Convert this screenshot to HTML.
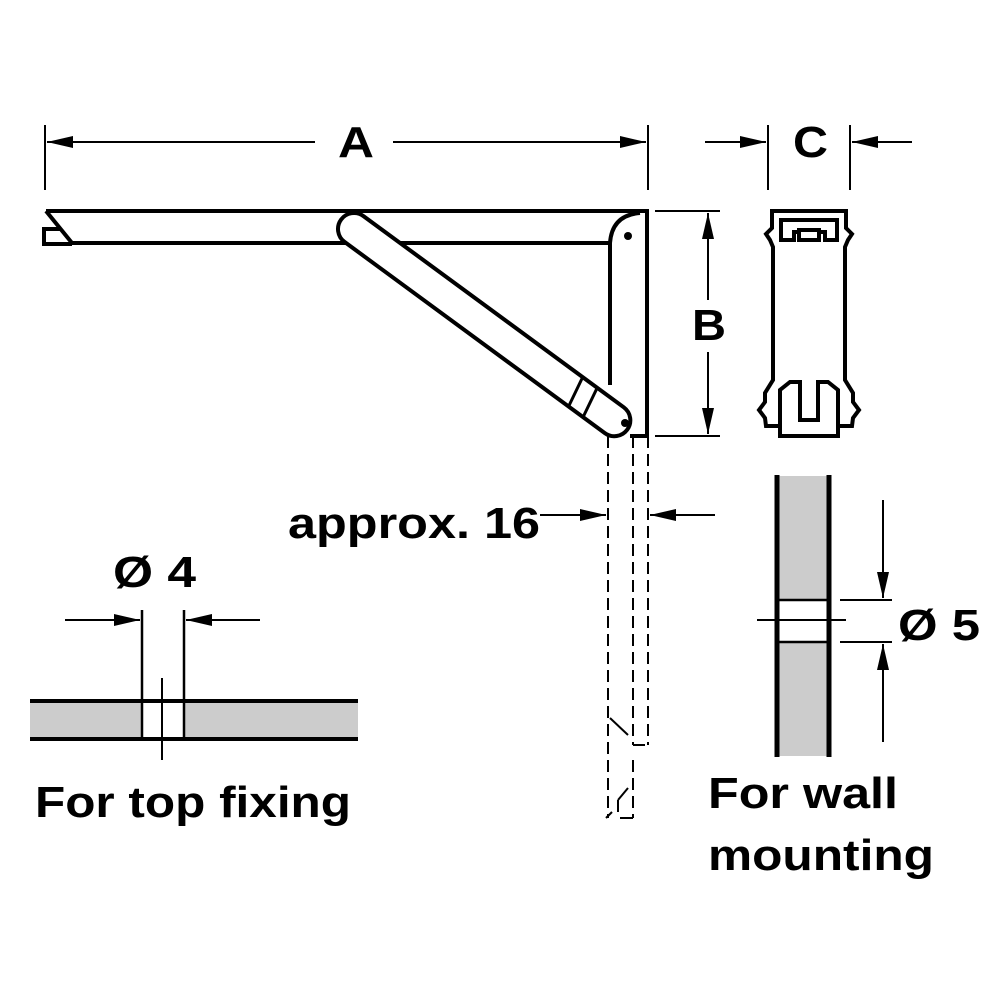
<!DOCTYPE html>
<html><head><style>body{margin:0;background:#fff}svg{display:block}</style></head><body>
<svg width="1000" height="1000" viewBox="0 0 1000 1000" xmlns="http://www.w3.org/2000/svg">
<defs>
<marker id="al" viewBox="0 0 26 12" refX="26" refY="6" markerWidth="26" markerHeight="12" markerUnits="userSpaceOnUse" orient="auto"><path d="M0,0 L26,6 L0,12 z" fill="#000"/></marker>
</defs>
<g font-family="Liberation Sans, sans-serif" font-weight="bold" fill="#000" font-size="44">
<text x="338" y="157" textLength="36" lengthAdjust="spacingAndGlyphs">A</text>
<text x="793" y="157" textLength="35" lengthAdjust="spacingAndGlyphs">C</text>
<text x="692" y="340" textLength="34" lengthAdjust="spacingAndGlyphs">B</text>
<text x="288" y="538" textLength="252" lengthAdjust="spacingAndGlyphs">approx. 16</text>
<text x="113" y="587" textLength="83" lengthAdjust="spacingAndGlyphs">Ø 4</text>
<text x="898" y="640" textLength="82" lengthAdjust="spacingAndGlyphs">Ø 5</text>
<text x="35" y="817" textLength="316" lengthAdjust="spacingAndGlyphs">For top fixing</text>
<text x="708" y="808" textLength="190" lengthAdjust="spacingAndGlyphs">For wall</text>
<text x="708" y="870" textLength="226" lengthAdjust="spacingAndGlyphs">mounting</text>
</g>
<g stroke="#000" stroke-width="2" fill="none">
<line x1="45" y1="125" x2="45" y2="190"/><line x1="648" y1="125" x2="648" y2="190"/>
<line x1="315" y1="142" x2="47" y2="142" marker-end="url(#al)"/>
<line x1="393" y1="142" x2="646" y2="142" marker-end="url(#al)"/>
<line x1="768" y1="125" x2="768" y2="190"/><line x1="850" y1="125" x2="850" y2="190"/>
<line x1="705" y1="142" x2="766" y2="142" marker-end="url(#al)"/>
<line x1="912" y1="142" x2="852" y2="142" marker-end="url(#al)"/>
<line x1="655" y1="211" x2="720" y2="211"/><line x1="655" y1="436" x2="720" y2="436"/>
<line x1="708" y1="300" x2="708" y2="213" marker-end="url(#al)"/>
<line x1="708" y1="352" x2="708" y2="434" marker-end="url(#al)"/>
<line x1="540" y1="515" x2="606" y2="515" marker-end="url(#al)"/>
<line x1="715" y1="515" x2="650" y2="515" marker-end="url(#al)"/>
<g stroke-dasharray="12,6">
<line x1="608" y1="436" x2="608" y2="818"/><line x1="633" y1="436" x2="633" y2="745"/><line x1="648" y1="436" x2="648" y2="745"/>
<line x1="633" y1="760" x2="633" y2="818"/>
</g>
<line x1="633" y1="745" x2="645" y2="745"/>
<line x1="610" y1="718" x2="628" y2="735"/>
<line x1="628" y1="788" x2="618" y2="800"/><line x1="618" y1="800" x2="618" y2="812"/><line x1="612" y1="812" x2="606" y2="818"/>
<line x1="620" y1="818" x2="633" y2="818"/>
</g>
<g stroke="#000" stroke-width="4" fill="none" stroke-linejoin="miter">
<path d="M61,229 L44,229 L44,244 L72,244"/>
<path d="M46,211 L647,211 L647,436 L630,436"/>
<path d="M46,211 L72,243 L610,243"/>
<path d="M610,385 L610,243 Q612,215 640,213"/>
<g transform="translate(354,229) rotate(36.3)" fill="#fff">
<rect x="-16" y="-16" width="355" height="32" rx="16" ry="16"/>
<line x1="272" y1="-16" x2="278" y2="16" stroke-width="3"/>
<line x1="290" y1="-16" x2="296" y2="16" stroke-width="3"/>
</g>
</g>
<circle cx="628" cy="236" r="4"/><circle cx="625" cy="423" r="4"/>
<g stroke="#000" stroke-width="4" fill="#fff" stroke-linejoin="miter">
<path d="M772,211 L846,211 L846,228 L852,234 L848,240 L845,247 L845,380 L853,393 L853,402 L859,410 L853,418 L852,426 L838,426 L838,436 L780,436 L780,426 L766,426 L765,418 L759,410 L765,402 L765,393 L773,380 L773,247 L770,240 L766,234 L772,228 Z"/>
<path d="M781,220 L837,220 L837,240 L825,240 L825,232 L794,232 L794,240 L781,240 Z"/>
<rect x="799" y="230" width="20" height="10"/>
<path d="M780,426 L780,390 L790,382 L800,382 L800,420 L818,420 L818,382 L828,382 L838,390 L838,426"/>
</g>
<rect x="778" y="476" width="52" height="124" fill="#ccc"/>
<rect x="778" y="642" width="52" height="114" fill="#ccc"/>
<g stroke="#000" fill="none">
<line x1="777" y1="475" x2="777" y2="757" stroke-width="5"/>
<line x1="829" y1="475" x2="829" y2="757" stroke-width="5"/>
<line x1="777" y1="600" x2="829" y2="600" stroke-width="2.5"/>
<line x1="777" y1="642" x2="829" y2="642" stroke-width="2.5"/>
<line x1="757" y1="620" x2="846" y2="620" stroke-width="2"/>
<line x1="840" y1="600" x2="892" y2="600" stroke-width="2"/>
<line x1="840" y1="642" x2="892" y2="642" stroke-width="2"/>
<line x1="883" y1="500" x2="883" y2="598" stroke-width="2" marker-end="url(#al)"/>
<line x1="883" y1="742" x2="883" y2="644" stroke-width="2" marker-end="url(#al)"/>
</g>
<rect x="30" y="702" width="112" height="36" fill="#ccc"/>
<rect x="184" y="702" width="174" height="36" fill="#ccc"/>
<g stroke="#000" fill="none">
<line x1="30" y1="701" x2="358" y2="701" stroke-width="4"/>
<line x1="30" y1="739" x2="358" y2="739" stroke-width="4"/>
<line x1="142" y1="610" x2="142" y2="740" stroke-width="2.5"/>
<line x1="184" y1="610" x2="184" y2="740" stroke-width="2.5"/>
<line x1="162" y1="678" x2="162" y2="760" stroke-width="2"/>
<line x1="65" y1="620" x2="140" y2="620" stroke-width="2" marker-end="url(#al)"/>
<line x1="260" y1="620" x2="186" y2="620" stroke-width="2" marker-end="url(#al)"/>
</g>
</svg>
</body></html>
